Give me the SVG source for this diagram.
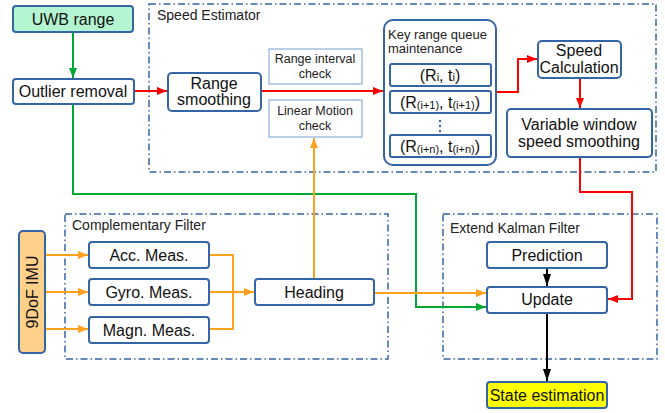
<svg xmlns="http://www.w3.org/2000/svg" width="665" height="413" viewBox="0 0 665 413">
<style>
text{font-family:"Liberation Sans",Arial,sans-serif;fill:#111}
.box{fill:#fff;stroke:#3465a4;stroke-width:2}
.thin{fill:#fff;stroke:#729fcf;stroke-width:1}
.grp{fill:none;stroke:#3465a4;stroke-width:1.5;stroke-dasharray:7,3,1.5,3}
.t{font-size:16px;text-anchor:middle}
.s{font-size:12.5px;text-anchor:middle;fill:#222}
.g{font-size:14px;fill:#222}
.q{font-size:13px;fill:#222}
.red{stroke:#ff0000;stroke-width:2;fill:none}
.grn{stroke:#00a933;stroke-width:2;fill:none}
.org{stroke:#ffa01e;stroke-width:2;fill:none}
.blk{stroke:#000;stroke-width:2;fill:none}
</style>
<defs>
<marker id="ar" markerWidth="10" markerHeight="8" refX="10" refY="4" orient="auto" markerUnits="userSpaceOnUse"><path d="M0,0L10,4L0,8z" fill="#ff0000"/></marker>
<marker id="ag" markerWidth="10" markerHeight="8" refX="10" refY="4" orient="auto" markerUnits="userSpaceOnUse"><path d="M0,0L10,4L0,8z" fill="#00a933"/></marker>
<marker id="ao" markerWidth="10" markerHeight="8" refX="10" refY="4" orient="auto" markerUnits="userSpaceOnUse"><path d="M0,0L10,4L0,8z" fill="#ffa01e"/></marker>
<marker id="ak" markerWidth="12" markerHeight="8" refX="12" refY="4" orient="auto" markerUnits="userSpaceOnUse"><path d="M0,0L12,4L0,8z" fill="#000"/></marker>
</defs>

<g id="speed-estimator"><rect class="grp" x="149" y="4" width="507" height="168"/><text class="g" x="157" y="20">Speed Estimator</text></g>
<g id="complementary-filter"><rect class="grp" x="65" y="214" width="323" height="145"/><text class="g" x="72" y="230">Complementary Filter</text></g>
<g id="ekf"><rect class="grp" x="443" y="214" width="214" height="145"/><text class="g" x="450" y="233">Extend Kalman Filter</text></g>

<g id="connectors">
<path class="grn" d="M73,32V78" marker-end="url(#ag)"/>
<path class="red" d="M134,91H167" marker-end="url(#ar)"/>
<path class="red" d="M261,91H383" marker-end="url(#ar)"/>
<path class="red" d="M496,92H518V59H537" marker-end="url(#ar)"/>
<path class="red" d="M580,78V108" marker-end="url(#ar)"/>
<path class="red" d="M580,157V192H632V299H608" marker-end="url(#ar)"/>
<path class="grn" d="M73,104V194H416V307H486" marker-end="url(#ag)"/>
<path class="org" d="M314,279V138" marker-end="url(#ao)"/>
<path class="org" d="M374,293H486" marker-end="url(#ao)"/>
<path class="org" d="M45,255H88" marker-end="url(#ao)"/>
<path class="org" d="M45,292H88" marker-end="url(#ao)"/>
<path class="org" d="M45,329H88" marker-end="url(#ao)"/>
<path class="org" d="M209,255H233V329H209"/>
<path class="org" d="M209,292H254" marker-end="url(#ao)"/>
<path class="blk" d="M547,268V286" marker-end="url(#ak)"/>
<path class="blk" d="M547,313V381" marker-end="url(#ak)"/>
</g>

<g id="uwb"><rect class="box" x="13" y="6" width="120" height="26" rx="3" style="fill:#b3f5d0"/><text class="t" x="73" y="25">UWB range</text></g>
<g id="outlier"><rect class="box" x="13" y="79" width="121" height="25" rx="3"/><text class="t" x="73" y="97">Outlier removal</text></g>
<g id="range-smoothing"><rect class="box" x="168" y="73" width="93" height="38" rx="4"/><text class="t" x="214" y="89">Range</text><text class="t" x="214" y="105">smoothing</text></g>
<g id="range-interval"><rect class="thin" x="269" y="49" width="93" height="35"/><text class="s" x="315" y="63">Range interval</text><text class="s" x="315" y="78">check</text></g>
<g id="linear-motion"><rect class="thin" x="269" y="100" width="93" height="37"/><text class="s" x="315" y="115">Linear Motion</text><text class="s" x="315" y="130">check</text></g>
<g id="queue"><rect class="box" x="384" y="20" width="112" height="145" rx="9"/>
<text class="q" x="388" y="39">Key range queue</text><text class="q" x="388" y="53">maintenance</text>
<rect class="box" x="390" y="64" width="101" height="22" rx="2"/><text class="t" x="440" y="81">(R<tspan font-size="11">i</tspan>, t<tspan font-size="11">i</tspan>)</text>
<rect class="box" x="390" y="91" width="101" height="22" rx="2"/><text class="t" x="440" y="108">(R<tspan font-size="11" dy="1">(i+1)</tspan><tspan dy="-1">, t</tspan><tspan font-size="11" dy="1">(i+1)</tspan><tspan dy="-1">)</tspan></text>
<circle cx="440" cy="121" r="1.2" fill="#3465a4"/><circle cx="440" cy="126" r="1.2" fill="#3465a4"/><circle cx="440" cy="131" r="1.2" fill="#3465a4"/>
<rect class="box" x="390" y="135" width="101" height="22" rx="2"/><text class="t" x="440" y="152">(R<tspan font-size="11" dy="1">(i+n)</tspan><tspan dy="-1">, t</tspan><tspan font-size="11" dy="1">(i+n)</tspan><tspan dy="-1">)</tspan></text>
</g>
<g id="speed-calc"><rect class="box" x="538" y="41" width="83" height="37" rx="4"/><text class="t" x="579" y="56">Speed</text><text class="t" x="579" y="73">Calculation</text></g>
<g id="variable-window"><rect class="box" x="507" y="109" width="145" height="48" rx="4"/><text class="t" x="579" y="130">Variable window</text><text class="t" x="579" y="147">speed smoothing</text></g>
<g id="imu"><rect class="box" x="19" y="231" width="26" height="122" rx="4" style="fill:#ffd08a"/><text class="t" transform="translate(38,292) rotate(-90)">9DoF IMU</text></g>
<g id="acc"><rect class="box" x="89" y="242" width="120" height="26" rx="3"/><text class="t" x="149" y="261">Acc. Meas.</text></g>
<g id="gyro"><rect class="box" x="89" y="279" width="120" height="26" rx="3"/><text class="t" x="149" y="298">Gyro. Meas.</text></g>
<g id="magn"><rect class="box" x="89" y="317" width="120" height="26" rx="3"/><text class="t" x="149" y="336">Magn. Meas.</text></g>
<g id="heading"><rect class="box" x="255" y="279" width="119" height="26" rx="3"/><text class="t" x="314" y="298">Heading</text></g>
<g id="prediction"><rect class="box" x="487" y="242" width="120" height="26" rx="3"/><text class="t" x="547" y="261">Prediction</text></g>
<g id="update"><rect class="box" x="487" y="287" width="120" height="26" rx="3"/><text class="t" x="547" y="305">Update</text></g>
<g id="state"><rect class="box" x="487" y="382" width="120" height="26" rx="3" style="fill:#ffff00"/><text class="t" x="547" y="401">State estimation</text></g>
</svg>
